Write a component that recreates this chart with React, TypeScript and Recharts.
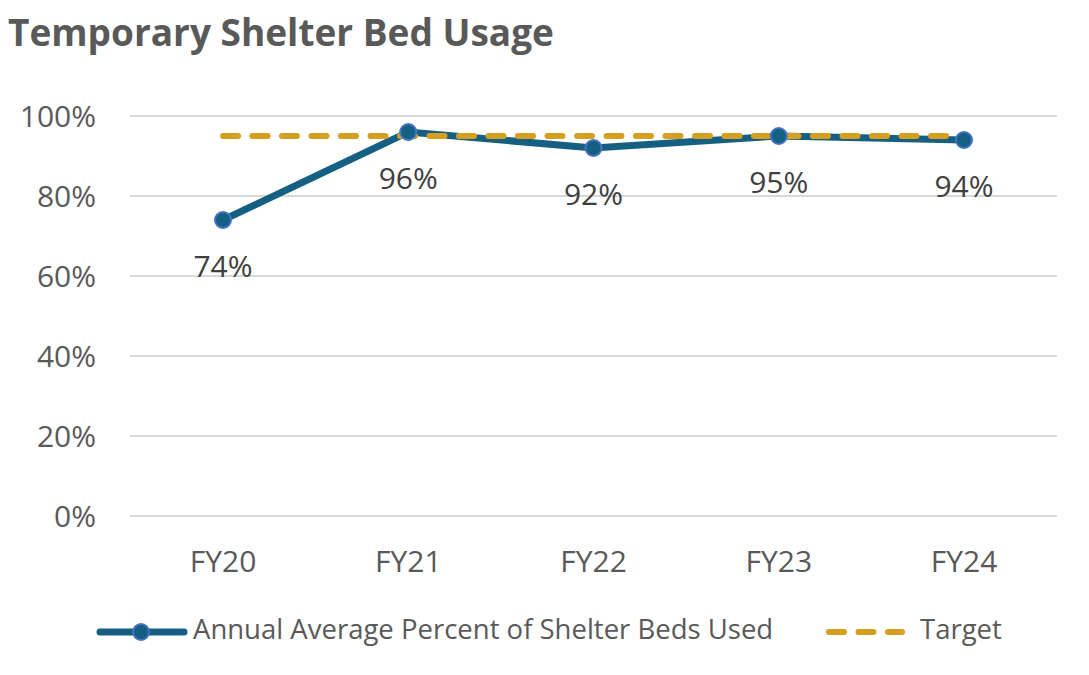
import React from "react";
import { LineChart, Line, XAxis, YAxis, CartesianGrid, LabelList } from "recharts";

const categories = ["FY20", "FY21", "FY22", "FY23", "FY24"];
const usageValues = [74, 96, 92, 95, 94];
const targetValues = [95, 95, 95, 95, 95];
const yTicks = [0, 20, 40, 60, 80, 100];

const data = categories.map((c, i) => ({ cat: c, usage: usageValues[i], target: targetValues[i] }));

const FONT = "'Open Sans', 'Noto Sans', sans-serif";
const TEAL = "#156082";
const GOLD = "#D59F1F";
const MARKER_STROKE = "#4472C4";

const renderLabel = (props: any) => {
  const { x, y, value } = props;
  return (
    <text x={x} y={y + 49} textAnchor="middle" dominantBaseline="middle" fill="#404040" fontSize={30} fontFamily={FONT}>
      {value}%
    </text>
  );
};

const LegendBox = () => (
  <svg width={1089} height={56} style={{ position: "absolute", left: 0, top: 604 }}>
    <line x1={100} y1={28} x2={184} y2={28} stroke={TEAL} strokeWidth={7} strokeLinecap="round" />
    <circle cx={141} cy={28} r={8} fill={TEAL} stroke={MARKER_STROKE} strokeWidth={2} />
    <text x={193} y={28} dominantBaseline="middle" fontSize={27.5} fill="#595959" fontFamily={FONT}>
      Annual Average Percent of Shelter Beds Used
    </text>
    <line x1={829} y1={28} x2={902} y2={28} stroke={GOLD} strokeWidth={6} strokeLinecap="round" strokeDasharray="15 14.5" />
    <text x={920} y={28} dominantBaseline="middle" fontSize={27.5} fill="#595959" fontFamily={FONT}>
      Target
    </text>
  </svg>
);

export default function App() {
  return (
    <div style={{ position: "absolute", left: 0, top: 0, width: 1089, height: 675, background: "#fff" }}>
      <div style={{ position: "absolute", left: 8, top: 7, fontFamily: FONT, fontWeight: 700, fontSize: 37, color: "#595959", lineHeight: "50px", whiteSpace: "nowrap" }}>
        Temporary Shelter Bed Usage
      </div>
      <div style={{ position: "absolute", left: 0, top: 0 }}>
        <LineChart width={1089} height={675} data={data} margin={{ top: 116, right: 32, bottom: 99, left: 30 }}>
          <CartesianGrid vertical={false} stroke="#D9D9D9" strokeWidth={2} />
          <XAxis
            dataKey="cat"
            axisLine={false}
            tickLine={false}
            height={60}
            padding={{ left: 93, right: 93 }}
            tick={{ fill: "#595959", fontSize: 30, fontFamily: FONT, dy: 27 }}
          />
          <YAxis
            domain={[0, 100]}
            ticks={yTicks}
            axisLine={false}
            tickLine={false}
            width={100}
            tickMargin={28}
            tickFormatter={(v: number) => `${v}%`}
            tick={{ fill: "#595959", fontSize: 30, fontFamily: FONT }}
          />
          <Line
            dataKey="usage"
            stroke={TEAL}
            strokeWidth={7}
            dot={{ r: 8, fill: TEAL, stroke: MARKER_STROKE, strokeWidth: 2 }}
            isAnimationActive={false}
          >
            <LabelList dataKey="usage" content={renderLabel} />
          </Line>
          <Line
            dataKey="target"
            stroke={GOLD}
            strokeWidth={6}
            strokeLinecap="round"
            strokeDasharray="15 14.5"
            dot={false}
            isAnimationActive={false}
          />
        </LineChart>
      </div>
      <LegendBox />
    </div>
  );
}
